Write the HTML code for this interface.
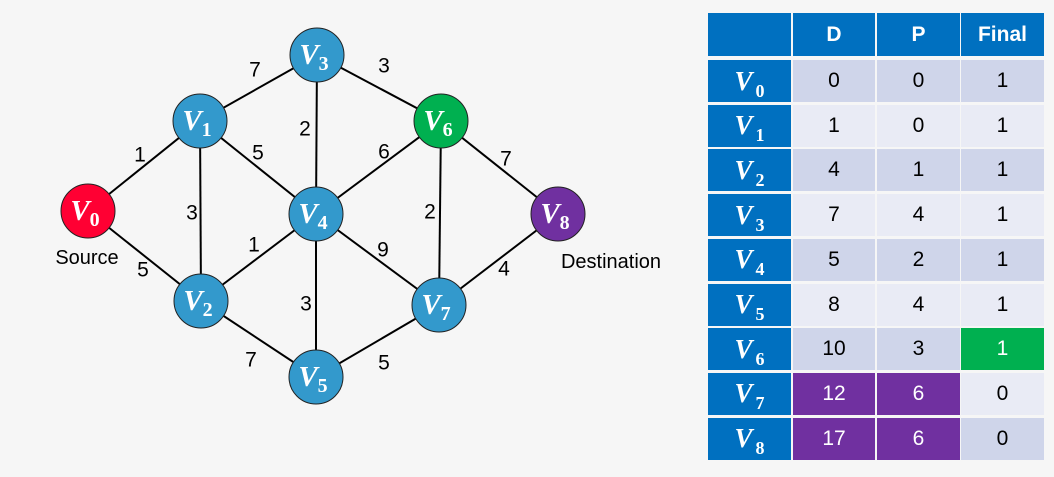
<!DOCTYPE html>
<html><head><meta charset="utf-8"><style>
body{margin:0;width:1054px;height:477px;background:#f6f6f6;position:relative;overflow:hidden;font-family:"Liberation Sans",sans-serif}
.c{position:absolute;display:flex;align-items:center;justify-content:center;font-size:21px;color:#000}
.h{background:#0070c0;color:#fff}
.hb{font-weight:bold}
.a{background:#cfd5ea}.b{background:#e9ebf5}
.p{background:#7030a0;color:#fff}.g{background:#00b050;color:#fff}
.v span{font-family:"Liberation Serif",serif;font-style:italic;font-weight:bold;font-size:27px;color:#fff}
.v span i{font-style:normal;font-size:18px;position:relative;top:7px;margin-left:3px}
</style></head><body>
<svg width="700" height="477" style="position:absolute;left:0;top:0" font-family="Liberation Sans" font-size="21">
<g stroke="#000" stroke-width="2">
<line x1="88" y1="211" x2="200" y2="121"/><line x1="88" y1="211" x2="201" y2="301"/>
<line x1="200" y1="121" x2="317" y2="55"/><line x1="200" y1="121" x2="201" y2="301"/><line x1="200" y1="121" x2="316" y2="214"/>
<line x1="317" y1="55" x2="441" y2="121"/><line x1="317" y1="55" x2="316" y2="214"/>
<line x1="441" y1="121" x2="316" y2="214"/><line x1="441" y1="121" x2="439" y2="305"/><line x1="441" y1="121" x2="558" y2="214"/>
<line x1="316" y1="214" x2="201" y2="301"/><line x1="316" y1="214" x2="439" y2="305"/><line x1="316" y1="214" x2="316" y2="377"/>
<line x1="201" y1="301" x2="316" y2="377"/><line x1="439" y1="305" x2="316" y2="377"/><line x1="439" y1="305" x2="558" y2="214"/>
</g>
<g stroke="#222" stroke-width="1">
<circle cx="88" cy="211" r="27" fill="#ff0033"/>
<circle cx="200" cy="121" r="27" fill="#3399cc"/>
<circle cx="317" cy="55" r="27" fill="#3399cc"/>
<circle cx="441" cy="121" r="27" fill="#00b050"/>
<circle cx="316" cy="214" r="27" fill="#3399cc"/>
<circle cx="558" cy="214" r="27" fill="#7030a0"/>
<circle cx="201" cy="301" r="27" fill="#3399cc"/>
<circle cx="439" cy="305" r="27" fill="#3399cc"/>
<circle cx="316" cy="377" r="27" fill="#3399cc"/>
</g>
<g text-anchor="middle" dominant-baseline="central">
<text x="255" y="70">7</text><text x="384" y="66">3</text><text x="140" y="155">1</text><text x="258" y="153">5</text>
<text x="305" y="129">2</text><text x="384" y="152">6</text><text x="506" y="159">7</text><text x="192" y="213">3</text>
<text x="430" y="212">2</text><text x="254" y="245">1</text><text x="383" y="250">9</text><text x="504" y="269">4</text>
<text x="143" y="270">5</text><text x="306" y="304">3</text><text x="251" y="360">7</text><text x="384" y="363">5</text>
<text x="87" y="258" font-size="20">Source</text><text x="611" y="262" font-size="20">Destination</text>
</g>
<g font-family="Liberation Serif" font-style="italic" font-weight="bold" font-size="29" fill="#fff" text-anchor="middle">
<text x="85" y="220">V<tspan font-size="20" font-style="normal" dy="6">0</tspan></text>
<text x="197" y="130">V<tspan font-size="20" font-style="normal" dy="6">1</tspan></text>
<text x="314" y="64">V<tspan font-size="20" font-style="normal" dy="6">3</tspan></text>
<text x="438" y="130">V<tspan font-size="20" font-style="normal" dy="6">6</tspan></text>
<text x="313" y="223">V<tspan font-size="20" font-style="normal" dy="6">4</tspan></text>
<text x="555" y="223">V<tspan font-size="20" font-style="normal" dy="6">8</tspan></text>
<text x="198" y="310">V<tspan font-size="20" font-style="normal" dy="6">2</tspan></text>
<text x="436" y="314">V<tspan font-size="20" font-style="normal" dy="6">7</tspan></text>
<text x="313" y="386">V<tspan font-size="20" font-style="normal" dy="6">5</tspan></text>
</g>
</svg>
<div class="c h" style="left:708px;top:13px;width:83px;height:43px"></div>
<div class="c h hb" style="left:793px;top:13px;width:82px;height:43px">D</div>
<div class="c h hb" style="left:877px;top:13px;width:83px;height:43px">P</div>
<div class="c h hb" style="left:961px;top:13px;width:83px;height:43px">Final</div>
<div id="rows"></div>
<script>
var d=[["0","0","1"],["1","0","1"],["4","1","1"],["7","4","1"],["5","2","1"],["8","4","1"],["10","3","1"],["12","6","0"],["17","6","0"]];
var h="",L=[793,877,961],W=[82,83,83];
for(var i=0;i<9;i++){var t=60+i*44.7,cl=i%2?"b":"a";
h+='<div class="c h v" style="left:708px;top:'+t+'px;width:83px;height:42px"><span>V<i>'+i+'</i></span></div>';
for(var j=0;j<3;j++){var k=cl;if(i==6&&j==2)k="g";if(i>=7&&j<2)k="p";
h+='<div class="c '+k+'" style="left:'+L[j]+'px;top:'+t+'px;width:'+W[j]+'px;height:42px">'+d[i][j]+'</div>';}}
document.getElementById("rows").outerHTML=h;
</script>
</body></html>
